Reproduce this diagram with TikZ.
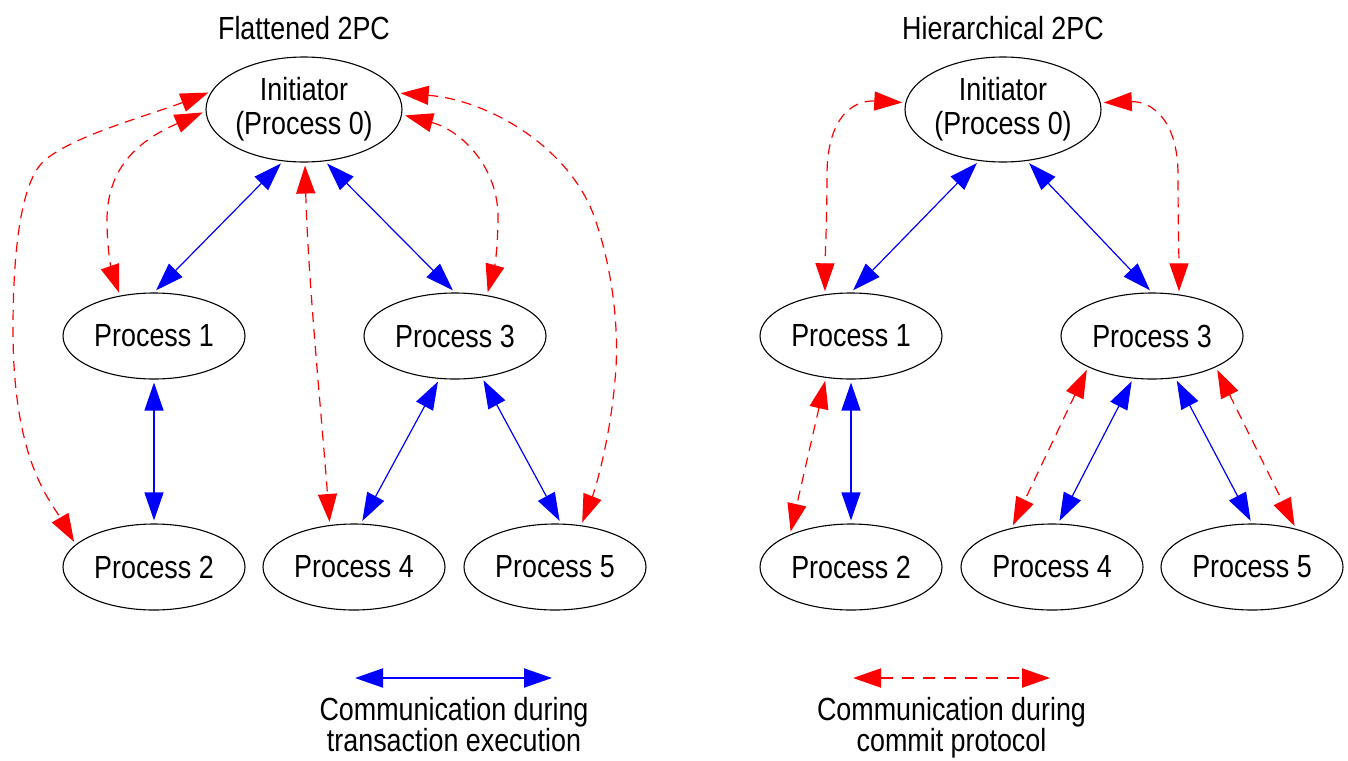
\documentclass[tikz,border=0pt]{standalone}
\usepackage{fontspec}
\setmainfont{Liberation Sans}[FakeStretch=0.84]
\usetikzlibrary{arrows.meta,shapes.geometric}
\newcommand\diagfont{\fontsize{32}{34}\selectfont}
\newcommand\legfont{\fontsize{32}{31}\selectfont}
\begin{document}
\begin{tikzpicture}[x=1pt,y=-1pt,
  proc/.style={draw, ellipse, minimum width=182pt, minimum height=86pt, inner sep=0pt, line width=1.1pt, font=\diagfont},
  initn/.style={proc, minimum width=196pt, minimum height=105pt, align=center},
  ttl/.style={font=\diagfont, inner sep=0pt},
  tips/.style={{Triangle[length=28pt,width=19pt]}-{Triangle[length=28pt,width=19pt]}},
  exe/.style={draw=blue, line width=1.2pt, tips, shorten <=3pt, shorten >=3pt},
  com/.style={draw=red, line width=1.2pt, dash pattern=on 10pt off 7pt, tips, shorten <=3pt, shorten >=3pt},
  legtxt/.style={font=\legfont, align=center, anchor=base, inner sep=0pt}]
\useasboundingbox (0,0) rectangle (1348,760);

% ---------- Flattened 2PC ----------
\node[ttl] (tl) at (304,28) {Flattened 2PC};
\node[initn] (Li) at (304,109.5) {Initiator\\(Process 0)};
\node[proc] (L1) at (154,336) {Process 1};
\node[proc] (L3) at (455,336) {Process 3};
\node[proc] (L2) at (154,567) {Process 2};
\node[proc] (L4) at (354,567) {Process 4};
\node[proc] (L5) at (555,567) {Process 5};

\draw[exe] (Li.248) -- (L1.north);
\draw[exe] (Li.292) -- (L3.north);
\draw[exe] (L1.south) -- (L2.north);
\draw[exe] (L3.250) -- (L4.81);
\draw[exe] (L3.303) -- (L5.82);

\draw[com] (Li.169) .. controls (150,115) and (75,135) .. (45,160)
  .. controls (21,180) and (13,250) .. (13,330)
  .. controls (13,460) and (50,500) .. (L2.164);
\draw[com] (Li.181) .. controls (142,139) and (107,165) .. (107,220)
  .. controls (107,255) and (113,275) .. (L1.130);
\draw[com] (Li.271) .. controls (308,280) and (322,420) .. (L4.120);
\draw[com] (Li.357) .. controls (460,130) and (497,165) .. (498,215)
  .. controls (498,245) and (495,265) .. (L3.52);
\draw[com] (Li.10) .. controls (490,100) and (575,150) .. (597,225)
  .. controls (612,270) and (620,330) .. (615,380)
  .. controls (610,440) and (595,490) .. (L5.58);

% ---------- Hierarchical 2PC ----------
\node[ttl] (tr) at (1003,28) {Hierarchical 2PC};
\node[initn] (Ri) at (1003,109.5) {Initiator\\(Process 0)};
\node[proc] (R1) at (851,336) {Process 1};
\node[proc] (R3) at (1152,336) {Process 3};
\node[proc] (R2) at (851,567) {Process 2};
\node[proc] (R4) at (1052,567) {Process 4};
\node[proc] (R5) at (1252,567) {Process 5};

\draw[exe] (Ri.245) -- (R1.north);
\draw[exe] (Ri.295) -- (R3.north);
\draw[exe] (R1.south) -- (R2.north);
\draw[exe] (R3.246) -- (R4.82);
\draw[exe] (R3.299) -- (R5.north);

\draw[com] (Ri.176) .. controls (855,100) and (827,115) .. (827,175)
  .. controls (827,220) and (825,260) .. (R1.122);
\draw[com] (Ri.4) .. controls (1150,101) and (1178,118) .. (1178,175)
  .. controls (1178,220) and (1179,260) .. (R3.57);
\draw[com] (R1.239) -- (R2.152);
\draw[com] (R3.206) -- (R4.136);
\draw[com] (R3.334) -- (R5.41);

% ---------- Legend ----------
\coordinate (b1) at (355,678);
\coordinate (b2) at (552,678);
\draw[draw=blue, line width=2pt, tips] (b1) -- (b2);
\node[legtxt] (bt) at (454,751) {Communication during\\transaction execution};
\coordinate (r1) at (853,678);
\coordinate (r2) at (1050,678);
\draw[draw=red, line width=2pt, dash pattern=on 12pt off 9pt, tips] (r1) -- (r2);
\node[legtxt] (rt) at (951.5,751) {Communication during\\commit protocol};
\end{tikzpicture}
\end{document}
